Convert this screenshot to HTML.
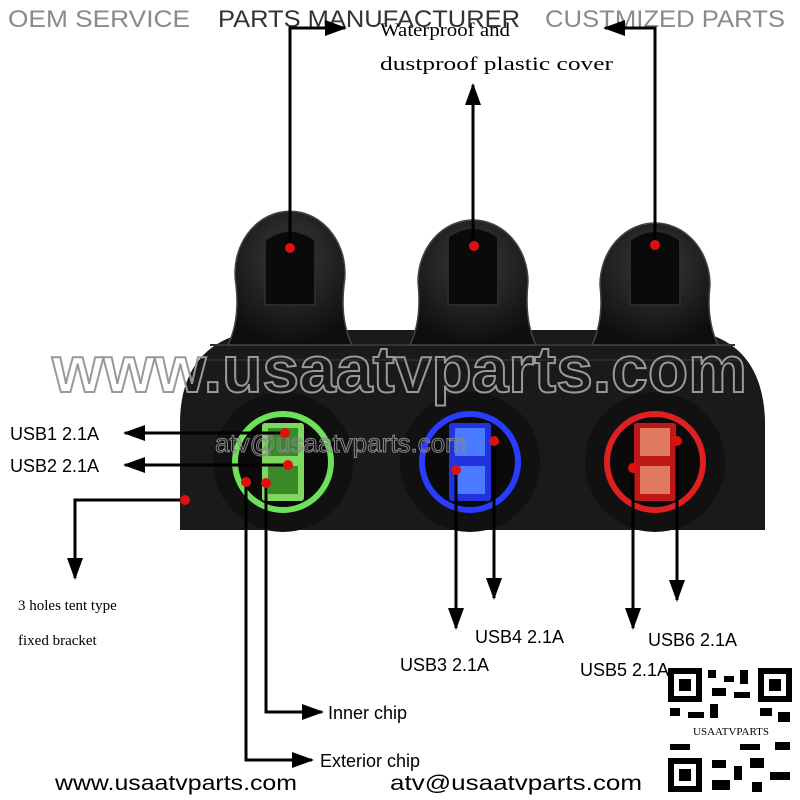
<!DOCTYPE html>
<html><head><meta charset="utf-8"><style>
html,body{margin:0;padding:0;background:#fff;}
svg{display:block}
</style></head><body>
<svg width="800" height="800" viewBox="0 0 800 800" xmlns="http://www.w3.org/2000/svg">
<defs>
<marker id="a" markerWidth="22" markerHeight="16" refX="20" refY="8" orient="auto" markerUnits="userSpaceOnUse">
<path d="M0,0 L22,8 L0,16 z" fill="#000"/>
</marker>
<radialGradient id="cap" cx="50%" cy="35%" r="65%"><stop offset="0" stop-color="#3a3a3a"/><stop offset="1" stop-color="#0e0e0e"/></radialGradient>
</defs>
<!-- header -->
<text x="8" y="27" font-family="Liberation Sans, sans-serif" font-size="24" fill="#8a8a8a" textLength="182" lengthAdjust="spacingAndGlyphs">OEM SERVICE</text>
<text x="218" y="27" font-family="Liberation Sans, sans-serif" font-size="24" fill="#333" textLength="302" lengthAdjust="spacingAndGlyphs">PARTS MANUFACTURER</text>
<text x="545" y="27" font-family="Liberation Sans, sans-serif" font-size="24" fill="#8a8a8a" textLength="240" lengthAdjust="spacingAndGlyphs">CUSTMIZED PARTS</text>
<text x="380" y="36" font-family="Liberation Serif, serif" font-size="19" fill="#000" textLength="130" lengthAdjust="spacingAndGlyphs">Waterproof and</text>
<text x="380" y="70" font-family="Liberation Serif, serif" font-size="19" fill="#000" textLength="233" lengthAdjust="spacingAndGlyphs">dustproof plastic cover</text>

<!-- housing -->
<path d="M180,530 L180,420 Q182,340 260,330 L690,330 Q762,340 765,420 L765,530 Z" fill="#1a1a1a"/>
<path d="M210,345 L735,345" stroke="#333" stroke-width="2"/>
<path d="M205,360 L740,360" stroke="#2a2a2a" stroke-width="2"/>
<!-- caps -->
<g fill="url(#cap)" stroke="#444" stroke-width="1.5">
<path d="M228,345 Q240,320 236,285 A55,62 0 1 1 344,285 Q340,320 352,345 Z"/>
<path d="M410,345 Q422,320 418,282 A55,62 0 1 1 528,282 Q524,320 536,345 Z"/>
<path d="M592,345 Q604,320 600,285 A55,62 0 1 1 710,285 Q706,320 718,345 Z"/>
</g>
<g fill="#0a0a0a" stroke="#2a2a2a" stroke-width="2">
<path d="M265,240 Q290,222 315,240 L315,305 L265,305 Z"/>
<path d="M448,237 Q473,219 498,237 L498,305 L448,305 Z"/>
<path d="M630,240 Q655,222 680,240 L680,305 L630,305 Z"/>
</g>
<!-- sockets -->
<circle cx="283" cy="462" r="70" fill="#111"/>
<circle cx="283" cy="462" r="48" fill="#0a0a0a" stroke="#6fe05a" stroke-width="6"/>
<rect x="262" y="423" width="42" height="78" rx="3" fill="#7ed860"/>
<rect x="268" y="428" width="30" height="28" fill="#3a8a2a"/><rect x="268" y="466" width="30" height="28" fill="#3a8a2a"/>
<circle cx="470" cy="462" r="70" fill="#111"/>
<circle cx="470" cy="462" r="48" fill="#0a0a0a" stroke="#2a3cff" stroke-width="6"/>
<rect x="449" y="423" width="42" height="78" rx="3" fill="#2233dd"/>
<rect x="455" y="428" width="30" height="28" fill="#4a7aff"/><rect x="455" y="466" width="30" height="28" fill="#4a7aff"/>
<circle cx="655" cy="462" r="70" fill="#111"/>
<circle cx="655" cy="462" r="48" fill="#0a0a0a" stroke="#e02020" stroke-width="6"/>
<rect x="634" y="423" width="42" height="78" rx="3" fill="#c01818"/>
<rect x="640" y="428" width="30" height="28" fill="#e07a60"/><rect x="640" y="466" width="30" height="28" fill="#e07a60"/>

<!-- watermark -->
<text x="52" y="392" font-family="Liberation Sans, sans-serif" font-weight="bold" font-size="66" fill="none" stroke="#999" stroke-width="2" textLength="695" lengthAdjust="spacingAndGlyphs">www.usaatvparts.com</text>
<text x="215" y="452" font-family="Liberation Sans, sans-serif" font-size="26" fill="none" stroke="#888" stroke-width="1">atv@usaatvparts.com</text>

<!-- arrows -->
<g stroke="#000" stroke-width="3" fill="none">
<polyline points="290,248 290,28 345,28" marker-end="url(#a)"/>
<line x1="473" y1="245" x2="473" y2="85" marker-end="url(#a)"/>
<polyline points="655,245 655,28 605,28" marker-end="url(#a)"/>
<line x1="285" y1="433" x2="125" y2="433" marker-end="url(#a)"/>
<line x1="288" y1="465" x2="125" y2="465" marker-end="url(#a)"/>
<polyline points="185,500 75,500 75,578" marker-end="url(#a)"/>
<polyline points="266,483 266,712 322,712" marker-end="url(#a)"/>
<polyline points="246,482 246,760 312,760" marker-end="url(#a)"/>
<line x1="456" y1="470" x2="456" y2="628" marker-end="url(#a)"/>
<line x1="494" y1="441" x2="494" y2="598" marker-end="url(#a)"/>
<line x1="633" y1="468" x2="633" y2="628" marker-end="url(#a)"/>
<line x1="677" y1="441" x2="677" y2="600" marker-end="url(#a)"/>
</g>
<g fill="#e01010">
<circle cx="290" cy="248" r="5"/><circle cx="474" cy="246" r="5"/><circle cx="655" cy="245" r="5"/>
<circle cx="285" cy="433" r="5"/><circle cx="288" cy="465" r="5"/><circle cx="185" cy="500" r="5"/>
<circle cx="266" cy="483" r="5"/><circle cx="246" cy="482" r="5"/>
<circle cx="456" cy="470" r="5"/><circle cx="494" cy="441" r="5"/>
<circle cx="633" cy="468" r="5"/><circle cx="677" cy="441" r="5"/>
</g>

<!-- labels -->
<g font-family="Liberation Sans, sans-serif" font-size="18" fill="#000">
<text x="10" y="440">USB1 2.1A</text>
<text x="10" y="472">USB2 2.1A</text>
<text x="475" y="643">USB4 2.1A</text>
<text x="400" y="671">USB3 2.1A</text>
<text x="648" y="646">USB6 2.1A</text>
<text x="580" y="676">USB5 2.1A</text>
<text x="328" y="719">Inner chip</text>
<text x="320" y="767">Exterior chip</text>
<text x="55" y="790" font-size="21" textLength="242" lengthAdjust="spacingAndGlyphs">www.usaatvparts.com</text>
<text x="390" y="790" font-size="21" textLength="252" lengthAdjust="spacingAndGlyphs">atv@usaatvparts.com</text>
</g>
<g font-family="Liberation Serif, serif" font-size="15" fill="#000">
<text x="18" y="610">3 holes tent type</text>
<text x="18" y="645">fixed bracket</text>
</g>

<!-- QR -->
<rect x="668" y="668" width="124" height="124" fill="#fff"/>
<g fill="#000">
<rect x="668" y="668" width="34" height="34"/><rect x="674" y="674" width="22" height="22" fill="#fff"/><rect x="679" y="679" width="12" height="12"/>
<rect x="758" y="668" width="34" height="34"/><rect x="764" y="674" width="22" height="22" fill="#fff"/><rect x="769" y="679" width="12" height="12"/>
<rect x="668" y="758" width="34" height="34"/><rect x="674" y="764" width="22" height="22" fill="#fff"/><rect x="679" y="769" width="12" height="12"/>
<rect x="708" y="670" width="8" height="8"/><rect x="724" y="676" width="10" height="6"/><rect x="740" y="670" width="8" height="14"/>
<rect x="712" y="688" width="14" height="8"/><rect x="734" y="692" width="16" height="6"/>
<rect x="670" y="708" width="10" height="8"/><rect x="688" y="712" width="16" height="6"/><rect x="710" y="704" width="8" height="14"/>
<rect x="760" y="708" width="12" height="8"/><rect x="778" y="712" width="12" height="10"/>
<rect x="712" y="760" width="14" height="8"/><rect x="734" y="766" width="8" height="14"/><rect x="750" y="758" width="14" height="10"/>
<rect x="770" y="772" width="20" height="8"/><rect x="712" y="780" width="18" height="10"/><rect x="752" y="782" width="10" height="10"/>
<rect x="670" y="744" width="20" height="6"/><rect x="740" y="744" width="20" height="6"/><rect x="775" y="742" width="15" height="8"/>
</g>
<rect x="672" y="722" width="118" height="16" fill="#fff"/>
<text x="731" y="735" text-anchor="middle" font-family="Liberation Serif, serif" font-size="11" fill="#000">USAATVPARTS</text>
</svg>
</body></html>
